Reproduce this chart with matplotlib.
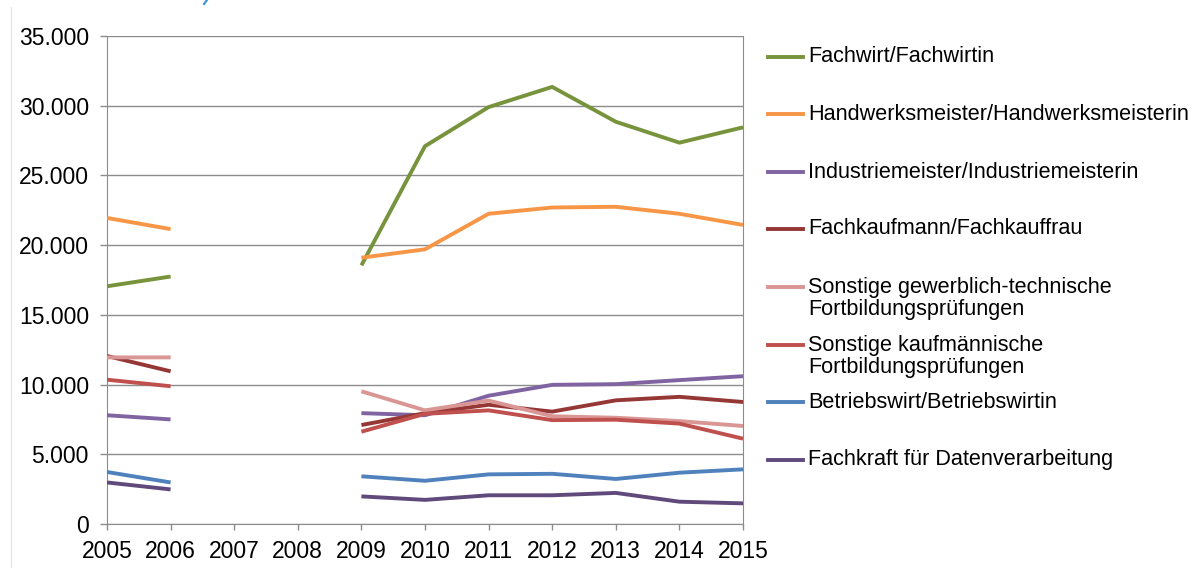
"""Fortbildungsprüfungen 2005-2015 nach Abschluss (Liniendiagramm, Excel-Stil)."""

import matplotlib

matplotlib.use("Agg")
import matplotlib.pyplot as plt  # noqa: E402
import numpy as np  # noqa: E402
from matplotlib.lines import Line2D  # noqa: E402
from matplotlib.ticker import FuncFormatter  # noqa: E402

plt.rcParams["font.family"] = ["Liberation Sans", "DejaVu Sans"]

years = list(range(2005, 2016))
nan = np.nan

labels = [
    "Fachwirt/Fachwirtin",
    "Handwerksmeister/Handwerksmeisterin",
    "Industriemeister/Industriemeisterin",
    "Fachkaufmann/Fachkauffrau",
    "Sonstige gewerblich-technische\nFortbildungsprüfungen",
    "Sonstige kaufmännische\nFortbildungsprüfungen",
    "Betriebswirt/Betriebswirtin",
    "Fachkraft für Datenverarbeitung",
]
colors = ["#77933C", "#F79646", "#8064A2", "#953735", "#D99694",
          "#C0504D", "#4F81BD", "#604A7B"]

fachwirt = [17050, 17750, nan, nan, 18550, 27100, 29900, 31350, 28850, 27350, 28450]
handwerk = [21950, 21150, nan, nan, 19100, 19700, 22250, 22700, 22750, 22250, 21450]
industrie = [7800, 7500, nan, nan, 7950, 7800, 9200, 9980, 10030, 10320, 10600]
fachkauf = [12050, 10950, nan, nan, 7100, 7950, 8550, 8060, 8870, 9120, 8750]
sonst_gew = [11950, 11950, nan, nan, 9520, 8150, 8850, 7730, 7620, 7380, 7030]
sonst_kfm = [10350, 9880, nan, nan, 6620, 7900, 8150, 7450, 7480, 7200, 6120]
betriebswirt = [3730, 2980, nan, nan, 3420, 3100, 3560, 3600, 3230, 3680, 3920]
fachkraft_dv = [2980, 2480, nan, nan, 1980, 1730, 2060, 2060, 2230, 1600, 1480]

series = [fachwirt, handwerk, industrie, fachkauf, sonst_gew, sonst_kfm,
          betriebswirt, fachkraft_dv]

fig = plt.figure(figsize=(12, 5.68), dpi=100)
ax = fig.add_axes([107 / 1200, 1 - 524 / 568, 636 / 1200, 488 / 568])

for vals, col in zip(series, colors):
    ax.plot(years, vals, color=col, lw=2.8, solid_capstyle="butt", zorder=3)

ax.set_xlim(2005, 2015)
ax.set_ylim(0, 35000)
ax.set_xticks(years)
ax.set_yticks(range(0, 35001, 5000))
ax.yaxis.set_major_formatter(FuncFormatter(lambda v, _: f"{int(v):,}".replace(",", ".")))
ax.grid(True, axis="y", color="#8c8c8c", lw=1)
ax.set_axisbelow(True)
for side in ("left", "right", "bottom"):
    ax.spines[side].set_color("#8c8c8c")
ax.spines["top"].set_visible(False)
ax.tick_params(axis="both", colors="#8c8c8c", labelcolor="black", labelsize=16.5, width=1)
ax.tick_params(axis="y", length=5, pad=8)
ax.tick_params(axis="x", length=4.5, pad=7)

# legend, Excel style: handle level with the first text line
legend_y = [57, 114, 172, 229, 287, 345, 402, 460]
line_step = 23
for lab, col, yy in zip(labels, colors, legend_y):
    fy = 1 - yy / 568
    fig.add_artist(Line2D([768 / 1200, 803 / 1200], [fy, fy], color=col, lw=2.8,
                          transform=fig.transFigure))
    n_lines = lab.count("\n") + 1
    ty = 1 - (yy + (n_lines - 1) * line_step / 2) / 568
    fig.text(808 / 1200, ty, lab, fontsize=15.6, va="center", ha="left",
             linespacing=1.0)

# leftover screenshot frame and a cut-off blue stroke at the top edge
fig.add_artist(Line2D([11 / 1200, 11 / 1200], [0, 1 - 7 / 568], color="#e6e6e6", lw=1,
                      transform=fig.transFigure))
fig.add_artist(Line2D([204 / 1200, 207 / 1200], [1 - 4 / 568, 1], color="#3b8fdc", lw=1.5,
                      transform=fig.transFigure))

fig.savefig("out.png", dpi=100)
